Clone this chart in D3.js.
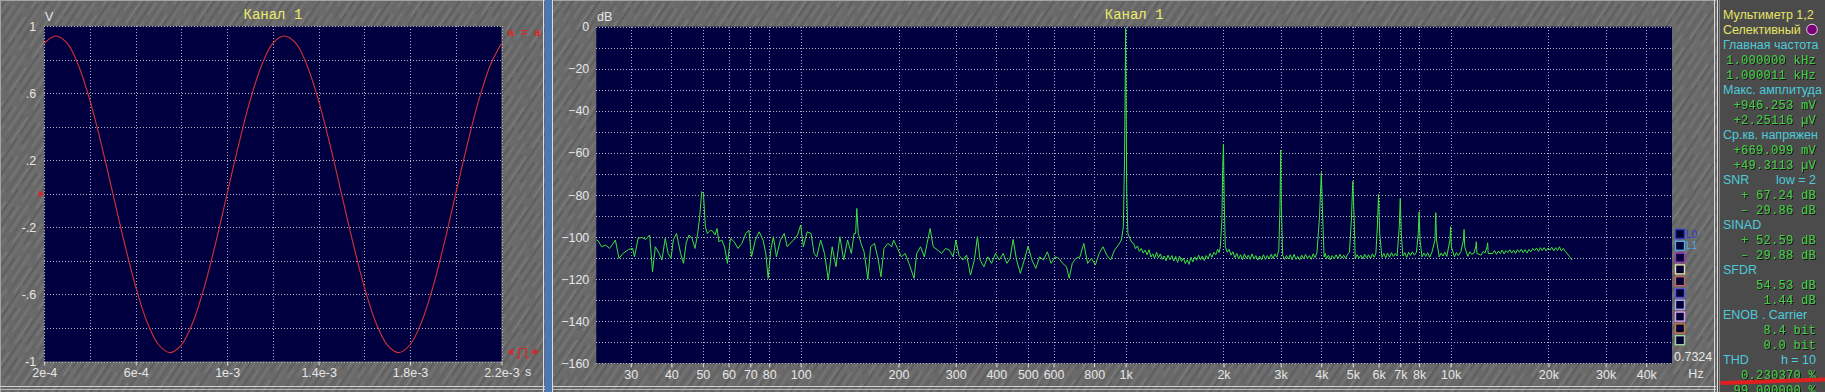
<!DOCTYPE html>
<html>
<head>
<meta charset="utf-8">
<script src="https://cdn.jsdelivr.net/npm/d3@7"></script>
<style>
  html, body { margin: 0; padding: 0; background: #686868; overflow: hidden; }
  svg { display: block; }
  .axis text { font-family: "Liberation Sans", Arial, sans-serif; font-size: 12.5px; fill: #e6e6e6; }
  .axis line { stroke: #e6e6e6; }
  .axis .domain { display: none; }
  .grid line { stroke: #b4b4c8; stroke-dasharray: 1, 2; shape-rendering: crispEdges; }
  .title { font-family: "Liberation Mono", monospace; font-size: 14px; fill: #ecec6a; }
  .unit { font-family: "Liberation Sans", Arial, sans-serif; font-size: 12.5px; fill: #e6e6e6; }
  .meter-label { font-family: "Liberation Sans", Arial, sans-serif; font-size: 12.5px; }
  .meter-value { font-family: "Liberation Mono", monospace; font-size: 12px; letter-spacing: 0.3px; }
</style>
</head>
<body>
<div id="wrapper"></div>
<script>
// oscilloscope trace, channel 1 (s, V)
const sineTime = [0.0002, 0.00025, 0.0003, 0.00035, 0.0004, 0.00045, 0.0005, 0.00055, 0.0006, 0.00065,
  0.0007, 0.00075, 0.0008, 0.00085, 0.0009, 0.00095, 0.001, 0.00105, 0.0011, 0.00115,
  0.0012, 0.00125, 0.0013, 0.00135, 0.0014, 0.00145, 0.0015, 0.00155, 0.0016, 0.00165,
  0.0017, 0.00175, 0.0018, 0.00185, 0.0019, 0.00195, 0.002, 0.00205, 0.0021, 0.00215, 0.0022]
const sineVolt = [0.899, 0.942, 0.899, 0.765, 0.556, 0.293, 0.002, -0.290, -0.555, -0.766,
  -0.900, -0.947, -0.901, -0.766, -0.556, -0.291, 0.001, 0.292, 0.556, 0.765,
  0.899, 0.942, 0.899, 0.765, 0.555, 0.292, 0.001, -0.291, -0.556, -0.766,
  -0.901, -0.947, -0.900, -0.766, -0.556, -0.291, 0.002, 0.292, 0.556, 0.765, 0.899]

const voltTicks = [1, 0.6, 0.2, -0.2, -0.6, -1]
const voltLabels = ["1", ".6", ".2", "-.2", "-.6", "-1"]
const timeTicks = [2e-4, 6e-4, 1e-3, 1.4e-3, 1.8e-3, 2.2e-3]
const timeLabels = ["2e-4", "6e-4", "1e-3", "1.4e-3", "1.8e-3", "2.2e-3"]

const freqTicks = [30, 40, 50, 60, 70, 80, 100, 200, 300, 400, 500, 600, 800,
  1000, 2000, 3000, 4000, 5000, 6000, 7000, 8000, 10000, 20000, 30000, 40000]
const freqLabels = ["30", "40", "50", "60", "70", "80", "100", "200", "300", "400", "500", "600", "800",
  "1k", "2k", "3k", "4k", "5k", "6k", "7k", "8k", "10k", "20k", "30k", "40k"]
const dbTicks = [0, -20, -40, -60, -80, -100, -120, -140, -160]

// spectrum, channel 1 [Hz, dB]
const spectrum = [
  [23.3, -101.1], [23.8, -101.7], [24.4, -104.6], [25.1, -103.8], [25.8, -105.4], [26.5, -103.0], [26.9, -101.4],
  [27.6, -110.1], [28.4, -107.8], [29.5, -105.9], [30.4, -105.4], [30.8, -109.4], [31.6, -100.6], [32.5, -100.2],
  [33.4, -101.1], [34.3, -99.0], [35.0, -116.5], [35.7, -104.6], [36.7, -107.8], [37.4, -110.9], [38.3, -100.6],
  [39.1, -107.8], [39.9, -110.1], [40.6, -101.1], [41.5, -98.3], [42.7, -107.8], [43.6, -112.5], [44.4, -103.0],
  [45.3, -99.0], [46.3, -100.6], [47.3, -105.4], [48.2, -98.3], [48.9, -90.3], [49.6, -78.4], [50.2, -79.2],
  [50.9, -95.1], [51.6, -98.3], [52.8, -96.7], [53.8, -97.5], [54.5, -99.0], [55.3, -95.9], [56.0, -102.2],
  [57.2, -101.4], [58.3, -104.6], [59.5, -112.5], [60.8, -100.6], [62.4, -102.2], [64.1, -105.4], [65.9, -103.0],
  [67.8, -98.3], [69.3, -96.7], [70.6, -109.4], [72.5, -101.4], [74.5, -97.5], [76.6, -101.4], [78.1, -107.8],
  [79.4, -119.6], [80.9, -106.2], [82.4, -99.8], [84.2, -109.4], [86.6, -101.4], [89.0, -98.3], [90.9, -104.6],
  [92.7, -103.0], [95.2, -101.4], [97.8, -99.0], [100, -94.3], [101.9, -104.6], [104.7, -97.5], [107.6, -98.3],
  [110.0, -107.8], [112.1, -109.4], [115.2, -101.4], [118.4, -107.8], [121.6, -120.4], [125.0, -104.6],
  [128.4, -114.1], [132.0, -99.8], [135.6, -110.9], [139.4, -101.4], [143.2, -107.8], [146.0, -98.3],
  [147.6, -98.3], [148.8, -86.4], [150.4, -98.3], [153.3, -103.0], [156.7, -107.0], [161.0, -120.1],
  [164.1, -104.6], [168.7, -103.0], [173.3, -110.9], [176.6, -118.9], [180.5, -105.4], [185.5, -103.0],
  [190.6, -104.6], [193.2, -101.4], [198.6, -105.4], [204.0, -109.4], [209.7, -107.8], [215.4, -112.5],
  [223.3, -119.6], [227.5, -107.8], [233.8, -104.6], [240.2, -109.4], [244.9, -103.0], [250.3, -95.9],
  [255.8, -104.6], [264.2, -106.2], [271.5, -107.8], [279.0, -105.4], [286.8, -106.2], [294.6, -109.4],
  [300.3, -101.4], [306.9, -108.6], [315.4, -110.9], [324.1, -108.6], [333.1, -118.1], [342.3, -110.9],
  [349.8, -99.8], [356.5, -110.9], [366.4, -114.1], [376.4, -109.4], [386.8, -112.5], [397.5, -107.8],
  [408.4, -110.9], [419.7, -107.8], [431.4, -112.5], [440.8, -110.1], [450.5, -101.1], [461.6, -110.9],
  [474.4, -117.3], [487.5, -110.9], [501.0, -104.3], [514.8, -110.9], [529.0, -114.9], [543.6, -109.4],
  [558.5, -110.9], [574.1, -107.0], [589.9, -112.5], [606.1, -109.4], [622.8, -110.1], [640.0, -112.5],
  [657.7, -114.1], [670.3, -119.6], [685.1, -112.5], [703.9, -110.1], [723.3, -109.4], [743.4, -103.0],
  [763.8, -112.5], [784.9, -110.1], [806.5, -113.3], [828.7, -107.8], [851.7, -104.6], [875.2, -108.6],
  [899.3, -110.9], [924.1, -106.2], [949.6, -103.8], [970.5, -101.4], [983.8, -95.1],
  [992, -63.4], [997, -25.4], [1000, -0.8], [1003, -33.3], [1008, -80.0], [1016, -98.3],
  [1030, -100.6], [1044, -102.5], [1058, -103.0], [1072, -105.5], [1087, -104.2], [1102, -106.8], [1117, -105.4],
  [1132, -107.6], [1148, -106.2], [1164, -108.4], [1180, -106.0], [1196, -109.5], [1212, -108.0], [1228, -110.2],
  [1245, -107.2], [1262, -109.8], [1279, -108.0], [1296, -110.6], [1314, -109.0], [1332, -111.2], [1350, -108.6],
  [1369, -110.8], [1388, -108.8], [1406, -111.4], [1425, -109.2], [1445, -112.0], [1465, -109.0], [1485, -111.6],
  [1505, -110.0], [1526, -112.6], [1546, -110.8], [1567, -113.0], [1588, -109.6], [1610, -111.8], [1632, -109.4],
  [1654, -111.0], [1677, -108.6], [1700, -110.8], [1722, -109.0], [1746, -111.2], [1770, -108.8], [1794, -110.4],
  [1818, -107.8], [1843, -109.6], [1868, -107.2], [1894, -108.4], [1920, -105.8], [1940, -107.4], [1956, -104.6],
  [1978, -91.9], [1989, -66.6], [2000, -55.8], [2010, -82.4], [2026, -104.6],
  [2054, -107.2], [2082, -105.8], [2110, -108.6], [2139, -107.0], [2168, -109.8], [2198, -107.8], [2228, -110.4],
  [2258, -108.4], [2289, -110.8], [2320, -108.0], [2352, -110.2], [2384, -108.6], [2416, -110.6], [2449, -108.0],
  [2482, -110.4], [2516, -108.8], [2550, -111.0], [2585, -109.0], [2620, -110.8], [2656, -108.4], [2692, -110.6],
  [2729, -108.8], [2766, -110.4], [2804, -108.2], [2842, -110.2], [2881, -108.0], [2920, -109.6], [2960, -106.2],
  [2985, -85.6], [3000, -58.6], [3015, -85.6], [3041, -108.6],
  [3082, -110.6], [3124, -108.8], [3167, -110.4], [3210, -108.4], [3254, -110.8], [3298, -108.2], [3343, -110.6],
  [3388, -109.2], [3434, -110.8], [3481, -108.6], [3529, -110.4], [3577, -108.2], [3626, -110.2], [3675, -108.8],
  [3724, -110.6], [3776, -108.0], [3827, -109.8], [3879, -107.4],
  [3950, -90.3], [4000, -69.3], [4040, -90.3], [4080, -109.4],
  [4115, -107.8], [4151, -110.2], [4208, -108.6], [4265, -110.8], [4323, -108.8], [4382, -110.4], [4442, -108.4],
  [4502, -110.2], [4564, -108.2], [4626, -110.0], [4689, -108.6], [4753, -110.2], [4818, -108.2], [4883, -107.2],
  [4950, -91.9], [5000, -73.4], [5050, -91.9],
  [5086, -110.2], [5155, -108.4], [5224, -110.0], [5296, -108.6], [5368, -110.4], [5441, -108.2], [5514, -110.0],
  [5590, -108.4], [5666, -110.2], [5743, -108.0], [5821, -109.6], [5890, -107.6],
  [5950, -95.1], [6000, -79.7], [6050, -98.3],
  [6146, -109.6], [6230, -107.8], [6314, -109.8], [6400, -107.6], [6486, -109.6], [6575, -107.4], [6665, -109.2],
  [6756, -107.8], [6847, -109.0], [6950, -95.1], [7000, -81.6], [7050, -98.3],
  [7130, -109.0], [7228, -107.4], [7328, -109.6], [7428, -107.2], [7528, -108.8], [7630, -107.0], [7734, -108.6],
  [7850, -107.2], [7950, -98.3], [8000, -88.0], [8050, -101.4],
  [8166, -109.4], [8276, -107.6], [8386, -109.2], [8500, -107.4], [8618, -109.6], [8760, -107.2],
  [8950, -101.4], [9000, -88.4], [9050, -101.4],
  [9222, -109.4], [9350, -107.6], [9474, -109.0], [9600, -107.2], [9734, -109.2],
  [9950, -101.4], [10000, -95.1], [10050, -104.6],
  [10275, -109.4], [10420, -107.4], [10556, -108.8], [10750, -107.0],
  [10950, -101.4], [11000, -96.4], [11050, -104.6],
  [11296, -109.2], [11450, -107.0], [11605, -108.2], [11800, -107.6],
  [11950, -104.6], [12000, -102.2], [12050, -107.8],
  [12417, -108.6], [12600, -106.8], [12757, -107.6],
  [12950, -104.6], [13000, -102.7], [13050, -107.8],
  [13472, -107.8], [13650, -106.4], [13838, -108.2], [14030, -106.6], [14218, -107.8], [14410, -106.2],
  [14604, -108.0], [14800, -106.4], [15006, -107.4], [15210, -106.0], [15417, -107.6], [15630, -106.2],
  [15841, -107.8], [16055, -106.0], [16274, -107.2], [16500, -105.8], [16722, -107.4], [16950, -106.0],
  [17179, -107.6], [17415, -105.8], [17652, -107.0], [17890, -105.4], [18134, -106.4], [18380, -105.2],
  [18633, -106.8], [18890, -105.0], [19143, -106.4], [19400, -105.0], [19670, -106.6], [19940, -105.2],
  [20207, -106.2], [20480, -104.8], [20763, -106.6], [21050, -105.0], [21330, -106.4], [21620, -104.6],
  [21917, -106.6], [22217, -105.4], [22520, -106.8], [22826, -107.8], [23200, -109.2], [23642, -110.9]
]

// trace selector squares next to the spectrum
const traceColors = ["#2c3cc8", "#50a8e8", "#a030c0", "#e6dea0", "#c86060", "#5058e0", "#a8a8f0", "#d8a0f0", "#c87840", "#a0d0a0"]
const traceNames = ["L0", "L1"]

// multimeter side panel: [left text, right text, colour]
const meterRows = [
  ["Мультиметр 1,2", "", "yellow"],
  ["Селективный", "", "yellow"],
  ["Главная частота", "", "cyan"],
  ["", "1.000000 kHz", "green"],
  ["", "1.000011 kHz", "green"],
  ["Макс. амплитуда", "", "cyan"],
  ["", "+946.253 mV", "green"],
  ["", "+2.25116 µV", "green"],
  ["Ср.кв. напряжен", "", "cyan"],
  ["", "+669.099 mV", "green"],
  ["", "+49.3113 µV", "green"],
  ["SNR", "low = 2", "cyan"],
  ["", "+ 67.24 dB", "green"],
  ["", "– 29.86 dB", "green"],
  ["SINAD", "", "cyan"],
  ["", "+ 52.59 dB", "green"],
  ["", "– 29.88 dB", "green"],
  ["SFDR", "", "cyan"],
  ["", "54.53 dB", "green"],
  ["", "1.44 dB", "green"],
  ["ENOB . Carrier", "", "cyan"],
  ["", "8.4 bit", "green"],
  ["", "0.0 bit", "green"],
  ["THD", "h = 10", "cyan"],
  ["", "0.230370 %", "green"],
  ["", "99.000000 %", "green"]
]
const meterColors = { yellow: "#e6e464", cyan: "#4ccada", green: "#44cc44" }

function drawGraphic() {
    const W = 1825, H = 392

    const svg = d3.select("#wrapper").append("svg")
        .attr("width", W)
        .attr("height", H)

    const defs = svg.append("defs")

    // brushed metal background
    const pat = defs.append("pattern")
        .attr("id", "brushed")
        .attr("patternUnits", "userSpaceOnUse")
        .attr("width", 29).attr("height", 41)
        .attr("patternTransform", "rotate(34)")
    pat.append("rect").attr("width", 29).attr("height", 41).attr("fill", "#6a6a6a")
    const streaks = [[1.5, "#7f7f7f", 1.2, "30,11"], [4.5, "#575757", 1, "18,5"], [8, "#777777", 0.8, "41,0"],
        [11.5, "#5b5b5b", 1.6, "25,16"], [15, "#858585", 0.7, "12,7"], [18.5, "#606060", 1, "41,0"],
        [22, "#797979", 1.3, "22,9"], [26, "#555555", 0.8, "33,8"]]
    streaks.forEach(([x, c, w, dash]) => {
        pat.append("line")
            .attr("x1", x).attr("x2", x).attr("y1", 0).attr("y2", 41)
            .attr("stroke", c).attr("stroke-width", w).attr("stroke-dasharray", dash)
    })

    const shadow = defs.append("filter").attr("id", "shadow")
    shadow.append("feDropShadow")
        .attr("dx", 1).attr("dy", 1).attr("stdDeviation", 0)
        .attr("flood-color", "#111111").attr("flood-opacity", 0.9)

    svg.append("rect").attr("width", W).attr("height", H).attr("fill", "url(#brushed)")

    // frame lines
    const frame = svg.append("g").attr("class", "frame").attr("shape-rendering", "crispEdges")
    frame.append("line").attr("x1", 0).attr("x2", 1716).attr("y1", 0.5).attr("y2", 0.5).attr("stroke", "#a4a4a4")
    frame.append("line").attr("x1", 0.5).attr("x2", 0.5).attr("y1", 0).attr("y2", H).attr("stroke", "#a4a4a4")
    frame.append("line").attr("x1", 0).attr("x2", 1716).attr("y1", 386.5).attr("y2", 386.5).attr("stroke", "#d0d0d0")
    frame.append("line").attr("x1", 0).attr("x2", 1716).attr("y1", 389.5).attr("y2", 389.5).attr("stroke", "#b8b8b8")
    frame.append("line").attr("x1", 543.5).attr("x2", 543.5).attr("y1", 0).attr("y2", H).attr("stroke", "#dcdcdc")
    frame.append("rect").attr("x", 545).attr("y", 0).attr("width", 7).attr("height", H).attr("fill", "#4a78b4")
    frame.append("line").attr("x1", 552.5).attr("x2", 552.5).attr("y1", 0).attr("y2", H).attr("stroke", "#dcdcdc")
    frame.append("line").attr("x1", 1714.5).attr("x2", 1714.5).attr("y1", 0).attr("y2", H).attr("stroke", "#d8d8d8")

    // ---------- oscilloscope ----------
    const x = d3.scaleLinear().domain([2e-4, 2.2e-3]).range([44.3, 501.5])
    const y = d3.scaleLinear().domain([-1, 1]).range([361.5, 26.3])

    const scope = svg.append("g").attr("class", "scope")
    scope.append("rect")
        .attr("x", x.range()[0]).attr("y", y.range()[1])
        .attr("width", x.range()[1] - x.range()[0])
        .attr("height", y.range()[0] - y.range()[1])
        .attr("fill", "#000040")

    const scopeGrid = scope.append("g").attr("class", "grid")
    x.ticks(10).forEach(t => {
        const px = Math.round(x(t)) + 0.5
        scopeGrid.append("line").attr("x1", px).attr("x2", px).attr("y1", y.range()[1]).attr("y2", y.range()[0])
    })
    y.ticks(10).forEach(t => {
        const py = Math.round(y(t)) + 0.5
        scopeGrid.append("line").attr("x1", x.range()[0]).attr("x2", x.range()[1]).attr("y1", py).attr("y2", py)
    })

    scope.append("g")
        .attr("class", "axis")
        .attr("transform", "translate(" + x.range()[0] + ",0)")
        .call(d3.axisLeft(y).tickValues(voltTicks).tickFormat((d, i) => voltLabels[i]).tickSize(0).tickPadding(8))

    scope.append("g")
        .attr("class", "axis")
        .attr("transform", "translate(0," + y.range()[0] + ")")
        .call(d3.axisBottom(x).tickValues(timeTicks).tickFormat((d, i) => timeLabels[i]).tickSize(4).tickPadding(3))

    const sineData = sineTime.map((t, i) => ({ t: t, v: sineVolt[i] }))
    scope.append("path")
        .datum(sineData)
        .attr("fill", "none")
        .attr("stroke", "#d03232")
        .attr("stroke-width", 1.1)
        .attr("d", d3.line().x(d => x(d.t)).y(d => y(d.v)).curve(d3.curveCatmullRom))

    scope.append("text").attr("class", "title")
        .attr("x", (x.range()[0] + x.range()[1]) / 2).attr("y", 14)
        .attr("text-anchor", "middle").attr("dy", "0.35em").text("Канал 1")
    scope.append("text").attr("class", "unit").attr("x", 45).attr("y", 17).attr("dy", "0.35em").text("V")
    scope.append("text").attr("class", "unit").attr("x", 528).attr("y", 372).attr("dy", "0.35em")
        .attr("text-anchor", "middle").text("s")

    // trigger marker and red channel icons
    scope.append("path")
        .attr("d", "M39," + (y(0) - 3.5) + "L44," + y(0) + "L39," + (y(0) + 3.5) + "Z")
        .attr("fill", "#e02424")
    scope.append("text")
        .attr("x", 524).attr("y", 32).attr("dy", "0.35em").attr("text-anchor", "middle")
        .attr("font-family", "Liberation Mono, monospace").attr("font-weight", "bold")
        .attr("font-size", 11).attr("fill", "#e02424").text("a = a")
    scope.append("path").attr("d", "M508,352L513,348.5L513,355.5Z").attr("fill", "#e02424")
    scope.append("path").attr("d", "M516,358H519V348.5H526V358H529").attr("fill", "none")
        .attr("stroke", "#e02424").attr("stroke-width", 1.2)
    scope.append("circle").attr("cx", 535).attr("cy", 352).attr("r", 2.4).attr("fill", "#e02424")

    // ---------- spectrum ----------
    const fx = d3.scaleLog().domain([23.5, 48000]).range([596.3, 1672])
    const fy = d3.scaleLinear().domain([-160, 0]).range([363.3, 26.7])

    const spec = svg.append("g").attr("class", "spectrum")
    spec.append("rect")
        .attr("x", fx.range()[0]).attr("y", fy.range()[1])
        .attr("width", fx.range()[1] - fx.range()[0])
        .attr("height", fy.range()[0] - fy.range()[1])
        .attr("fill", "#000040")

    defs.append("clipPath").attr("id", "specClip").append("rect")
        .attr("x", fx.range()[0]).attr("y", fy.range()[1] - 1)
        .attr("width", fx.range()[1] - fx.range()[0])
        .attr("height", fy.range()[0] - fy.range()[1] + 1)

    const specGrid = spec.append("g").attr("class", "grid")
    freqTicks.forEach(f => {
        const px = Math.round(fx(f)) + 0.5
        specGrid.append("line").attr("x1", px).attr("x2", px).attr("y1", fy.range()[1]).attr("y2", fy.range()[0])
    })
    fy.ticks(16).forEach(d => {
        const py = Math.round(fy(d)) + 0.5
        specGrid.append("line").attr("x1", fx.range()[0]).attr("x2", fx.range()[1]).attr("y1", py).attr("y2", py)
    })

    spec.append("g")
        .attr("class", "axis")
        .attr("transform", "translate(" + fx.range()[0] + ",0)")
        .call(d3.axisLeft(fy).tickValues(dbTicks).tickSize(0).tickPadding(7))

    spec.append("g")
        .attr("class", "axis")
        .attr("transform", "translate(0," + fy.range()[0] + ")")
        .call(d3.axisBottom(fx).tickValues(freqTicks).tickFormat((d, i) => freqLabels[i]).tickSize(4).tickPadding(3))

    spec.append("path")
        .datum(spectrum)
        .attr("clip-path", "url(#specClip)")
        .attr("fill", "none")
        .attr("stroke", "#3ee23e")
        .attr("stroke-width", 1)
        .attr("stroke-linejoin", "round")
        .attr("d", d3.line().x(d => fx(d[0])).y(d => fy(d[1])))

    spec.append("text").attr("class", "title")
        .attr("x", (fx.range()[0] + fx.range()[1]) / 2).attr("y", 14)
        .attr("text-anchor", "middle").attr("dy", "0.35em").text("Канал 1")
    spec.append("text").attr("class", "unit").attr("x", 597).attr("y", 17).attr("dy", "0.35em").text("dB")
    spec.append("text").attr("class", "unit").attr("x", 1696).attr("y", 374).attr("dy", "0.35em")
        .attr("text-anchor", "middle").text("Hz")
    spec.append("text").attr("class", "unit").attr("x", 1674).attr("y", 357).attr("dy", "0.35em")
        .attr("font-size", 12).text("0.7324")

    // trace selector squares
    const traces = spec.append("g").attr("class", "traces")
    traceColors.forEach((c, i) => {
        traces.append("rect")
            .attr("x", 1675.5).attr("y", 229.5 + i * 11.8)
            .attr("width", 9).attr("height", 9)
            .attr("fill", "#000036").attr("stroke", c).attr("stroke-width", 1.4)
        if (traceNames[i]) {
            traces.append("text")
                .attr("x", 1686).attr("y", 234 + i * 11.8).attr("dy", "0.35em")
                .attr("font-family", "Liberation Sans, Arial, sans-serif").attr("font-size", 10)
                .attr("fill", c).text(traceNames[i])
        }
    })

    // ---------- multimeter panel ----------
    const meter = svg.append("g").attr("class", "meter")
    meter.append("rect").attr("x", 1718).attr("y", 0).attr("width", W - 1718).attr("height", H).attr("fill", "#4b4b4b")
    meter.append("line").attr("x1", 1717.5).attr("x2", 1717.5).attr("y1", 0).attr("y2", H)
        .attr("stroke", "#e0e0e0").attr("shape-rendering", "crispEdges")
    meter.append("line").attr("x1", 1719.5).attr("x2", 1719.5).attr("y1", 0).attr("y2", H)
        .attr("stroke", "#8a8a8a").attr("shape-rendering", "crispEdges")

    const rowY = i => 14.5 + i * 15
    meterRows.forEach(([left, right, kind], i) => {
        const isValue = kind === "green"
        if (left) {
            meter.append("text")
                .attr("class", "meter-label")
                .attr("x", 1723).attr("y", rowY(i)).attr("dy", "0.35em")
                .attr("fill", meterColors[kind])
                .text(left)
        }
        if (right) {
            meter.append("text")
                .attr("class", isValue ? "meter-value" : "meter-label")
                .attr("x", 1816).attr("y", rowY(i)).attr("dy", "0.35em")
                .attr("text-anchor", "end")
                .attr("fill", meterColors[kind])
                .attr("filter", isValue ? "url(#shadow)" : null)
                .text(right)
        }
    })

    meter.append("circle").attr("cx", 1812).attr("cy", rowY(1)).attr("r", 5.3)
        .attr("fill", "#7a007a").attr("stroke", "#e8d0e8").attr("stroke-width", 1)

    meter.append("line")
        .attr("x1", 1722).attr("y1", 383).attr("x2", W).attr("y2", 379.5)
        .attr("stroke", "#e02020").attr("stroke-width", 4).attr("stroke-linecap", "round")
}

window.addEventListener("load", drawGraphic)
</script>
</body>
</html>
